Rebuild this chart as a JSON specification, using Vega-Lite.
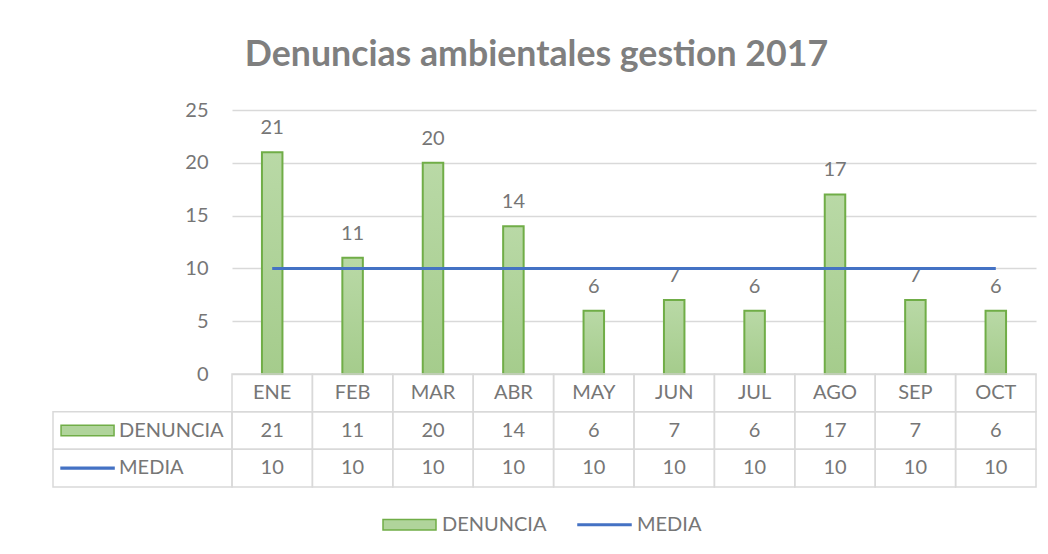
{
  "$schema": "https://vega.github.io/schema/vega-lite/v6.json",
  "padding": {"left": 52, "top": 37, "right": 5, "bottom": 5},
  "title": {"text": "Denuncias ambientales gestion 2017", "font": "Lato", "fontSize": 35.7, "fontWeight": "bold", "color": "#7f7f7f", "anchor": "middle", "offset": 26, "dx": -8},
  "datasets": {
    "meses": [
      {"mes": "ENE", "DENUNCIA": 21, "MEDIA": 10},
      {"mes": "FEB", "DENUNCIA": 11, "MEDIA": 10},
      {"mes": "MAR", "DENUNCIA": 20, "MEDIA": 10},
      {"mes": "ABR", "DENUNCIA": 14, "MEDIA": 10},
      {"mes": "MAY", "DENUNCIA": 6, "MEDIA": 10},
      {"mes": "JUN", "DENUNCIA": 7, "MEDIA": 10},
      {"mes": "JUL", "DENUNCIA": 6, "MEDIA": 10},
      {"mes": "AGO", "DENUNCIA": 17, "MEDIA": 10},
      {"mes": "SEP", "DENUNCIA": 7, "MEDIA": 10},
      {"mes": "OCT", "DENUNCIA": 6, "MEDIA": 10}
    ],
    "series": [{"serie": "DENUNCIA"}, {"serie": "MEDIA"}]
  },
  "spacing": 0,
  "bounds": "flush",
  "vconcat": [
    {
      "width": 804,
      "height": 264,
      "data": {"name": "meses"},
      "encoding": {
        "x": {"field": "mes", "type": "nominal", "sort": null, "scale": {"type": "band", "paddingInner": 0.745, "paddingOuter": 0.3725}, "axis": null}
      },
      "layer": [
        {
          "mark": {"type": "bar", "fill": {"gradient": "linear", "x1": 0, "y1": 0, "x2": 0, "y2": 1, "stops": [{"offset": 0, "color": "#b9d9a6"}, {"offset": 1, "color": "#a5cc8c"}]}, "stroke": "#70ad47", "strokeWidth": 2},
          "encoding": {
            "y": {"field": "DENUNCIA", "type": "quantitative", "scale": {"domain": [0, 25], "nice": false},
              "axis": {"values": [0, 5, 10, 15, 20, 25], "domain": false, "ticks": false, "grid": true, "gridColor": "#d9d9d9", "gridWidth": 1.5, "labelFont": "Lato", "labelFontSize": 20, "labelColor": "#767676", "labelPadding": 24, "title": null}}
          }
        },
        {
          "mark": {"type": "text", "dy": -18, "baseline": "alphabetic", "font": "Lato", "fontSize": 20, "color": "#767676"},
          "encoding": {
            "y": {"field": "DENUNCIA", "type": "quantitative"},
            "text": {"field": "DENUNCIA", "type": "quantitative"}
          }
        },
        {
          "mark": {"type": "line", "color": "#4472c4", "strokeWidth": 3},
          "encoding": {
            "y": {"field": "MEDIA", "type": "quantitative"}
          }
        }
      ]
    },
    {
      "width": 804,
      "height": 113,
      "resolve": {"scale": {"x": "independent"}},
      "layer": [
        {
          "data": {"name": "meses"},
          "mark": {"type": "rect", "filled": false, "color": "#d9d9d9", "strokeWidth": 1.5},
          "encoding": {
            "x": {"field": "mes", "type": "nominal", "sort": null, "scale": {"type": "band", "padding": 0}, "axis": null},
            "y": {"datum": "MES", "type": "nominal", "scale": {"type": "band", "domain": ["MES", "DENUNCIA", "MEDIA"], "padding": 0}, "axis": null}
          }
        },
        {
          "data": {"name": "meses"},
          "mark": {"type": "text", "font": "Lato", "fontSize": 20, "color": "#767676", "baseline": "middle"},
          "encoding": {
            "x": {"field": "mes", "type": "nominal", "sort": null, "scale": {"type": "band", "padding": 0}, "axis": null},
            "y": {"datum": "MES", "type": "nominal"},
            "text": {"field": "mes"}
          }
        },
        {
          "data": {"name": "meses"},
          "transform": [{"fold": ["DENUNCIA", "MEDIA"], "as": ["serie", "valor"]}],
          "mark": {"type": "rect", "filled": false, "color": "#d9d9d9", "strokeWidth": 1.5},
          "encoding": {
            "x": {"field": "mes", "type": "nominal", "sort": null, "scale": {"type": "band", "padding": 0}, "axis": null},
            "y": {"field": "serie", "type": "nominal"}
          }
        },
        {
          "data": {"name": "meses"},
          "transform": [{"fold": ["DENUNCIA", "MEDIA"], "as": ["serie", "valor"]}],
          "mark": {"type": "text", "font": "Lato", "fontSize": 20, "color": "#767676", "baseline": "middle"},
          "encoding": {
            "x": {"field": "mes", "type": "nominal", "sort": null, "scale": {"type": "band", "padding": 0}, "axis": null},
            "y": {"field": "serie", "type": "nominal"},
            "text": {"field": "valor", "type": "quantitative"}
          }
        },
        {
          "data": {"name": "series"},
          "mark": {"type": "rect", "filled": false, "color": "#d9d9d9", "strokeWidth": 1.5},
          "encoding": {
            "x": {"datum": 0, "type": "quantitative", "scale": {"domain": [0, 1], "range": [-179, 0]}, "axis": null},
            "x2": {"datum": 1},
            "y": {"field": "serie", "type": "nominal"}
          }
        },
        {
          "data": {"name": "series"},
          "mark": {"type": "point", "filled": true, "size": 2809, "strokeWidth": 1.5, "opacity": 1},
          "encoding": {
            "x": {"datum": 0.193, "type": "quantitative", "scale": {"domain": [0, 1], "range": [-179, 0]}, "axis": null},
            "y": {"field": "serie", "type": "nominal"},
            "shape": {"field": "serie", "type": "nominal", "scale": {"domain": ["DENUNCIA", "MEDIA"], "range": ["M-1,-0.2H1V0.2H-1Z", "M-1,-0.03H1V0.03H-1Z"]},
              "legend": {"orient": "none", "legendX": 150, "legendY": 387, "direction": "horizontal", "title": null, "symbolSize": 2809, "symbolStrokeWidth": 1.5, "symbolOpacity": 1, "labelFont": "Lato", "labelFontSize": 20, "labelColor": "#767676", "labelOffset": 5, "columnPadding": 28}},
            "fill": {"field": "serie", "type": "nominal", "scale": {"domain": ["DENUNCIA", "MEDIA"], "range": ["#b0d49b", "#4472c4"]}},
            "stroke": {"field": "serie", "type": "nominal", "scale": {"domain": ["DENUNCIA", "MEDIA"], "range": ["#70ad47", "#4472c4"]}}
          }
        },
        {
          "data": {"name": "series"},
          "mark": {"type": "text", "font": "Lato", "fontSize": 20, "color": "#767676", "baseline": "middle", "align": "left"},
          "encoding": {
            "x": {"datum": 0.369, "type": "quantitative", "scale": {"domain": [0, 1], "range": [-179, 0]}, "axis": null},
            "y": {"field": "serie", "type": "nominal"},
            "text": {"field": "serie"}
          }
        }
      ]
    }
  ],
  "config": {"view": {"stroke": null}, "font": "Lato"}
}
